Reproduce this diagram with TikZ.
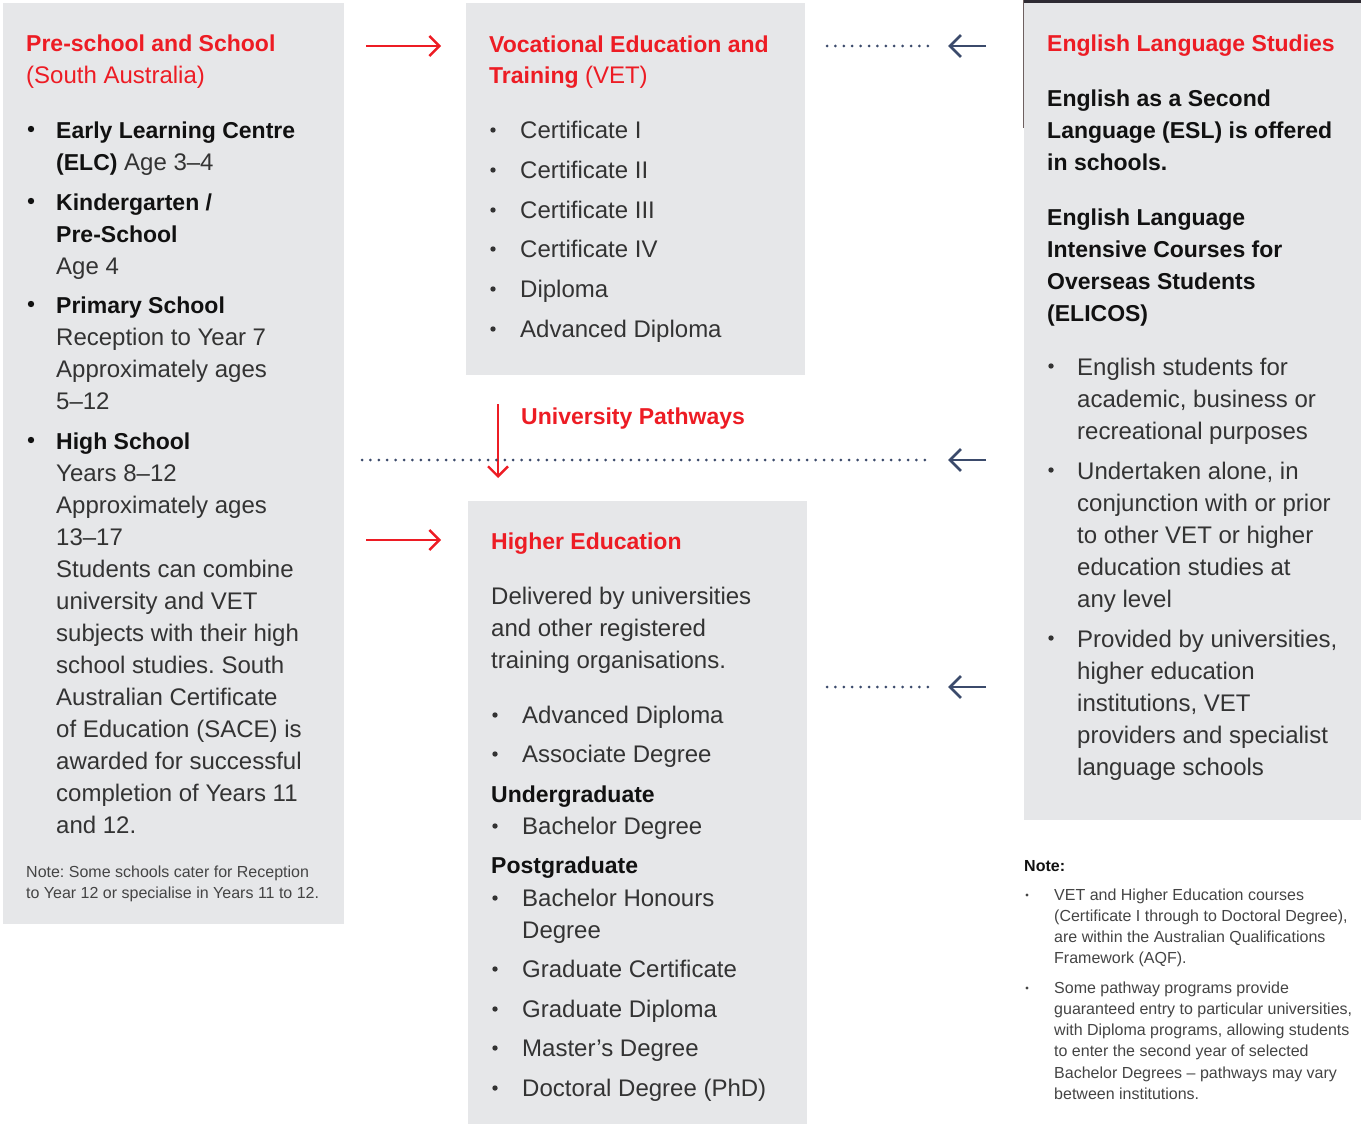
\documentclass[tikz,border=0pt]{standalone}
\usepackage{fontspec}
\setmainfont{Liberation Sans}
\usetikzlibrary{arrows.meta}
\definecolor{boxgray}{HTML}{E6E7E9}
\definecolor{hred}{HTML}{ED1C24}
\definecolor{bodyc}{HTML}{333333}
\definecolor{boldc}{HTML}{111111}
\definecolor{notec}{HTML}{444444}
\definecolor{navy}{HTML}{3B4A6B}
\definecolor{edgedark}{HTML}{2E2B33}
\definecolor{edgebrown}{HTML}{6E6060}
\newcommand\bldtxt[1]{{\fontsize{23}{32}\selectfont\bfseries\color{boldc}#1}}
\frenchspacing
\begin{document}
\begin{tikzpicture}[x=1pt,y=-1pt,
  box/.style={fill=boxgray,draw=none,anchor=north west,inner sep=0pt},
  txt/.style={anchor=base west,inner sep=0pt,align=left,text=bodyc,font=\frenchspacing\fontsize{24}{32}\selectfont},
  head/.style={anchor=base west,inner sep=0pt,align=left,text=hred,font=\fontsize{23}{32}\selectfont\bfseries},
  redreg/.style={anchor=base west,inner sep=0pt,align=left,text=hred,font=\fontsize{24}{32}\selectfont},
  small/.style={anchor=base west,inner sep=0pt,align=left,text=notec,font=\frenchspacing\fontsize{16}{21.3}\selectfont},
  redarrow/.style={draw=hred,line width=2.4pt,-{Straight Barb[length=10pt,width=20pt,line width=2.4pt]}},
  bluearrow/.style={draw=navy,line width=2.8pt,-{Straight Barb[length=11pt,width=22pt,line width=2.8pt]}},
  dotline/.style={draw=navy,line width=3pt,line cap=round,dash pattern=on 0pt off 8.4pt}
]
\useasboundingbox (0,0) rectangle (1361,1124);

% boxes
\node[box,minimum width=341pt,minimum height=921pt] (school) at (3,3) {};
\node[box,minimum width=339pt,minimum height=372pt] (vet) at (466,3) {};
\node[box,minimum width=339pt,minimum height=623pt] (he) at (468,501) {};
\node[box,minimum width=337pt,minimum height=817pt] (els) at (1024,3) {};
\draw[edgedark,line width=3pt] (1023,1.5) -- (1361,1.5);
\draw[edgebrown,line width=1.5pt] (1023.5,0) -- (1023.5,128);

% (multi-line nodes are placed at the baseline of their LAST line)
% ---------- School column ----------
\node[head] (t1) at (26,52) {Pre-school and School};
\node[redreg] (t1b) at (26,84) {(South Australia)};
\fill[boldc] (31,129) circle (3.2);
\node[txt] (s1) at (56,170) {\bldtxt{Early Learning Centre}\\\bldtxt{(ELC)} Age 3–4};
\fill[boldc] (31,201) circle (3.2);
\node[txt] (s2) at (56,274) {\bldtxt{Kindergarten /}\\\bldtxt{Pre-School}\\Age 4};
\fill[boldc] (31,304) circle (3.2);
\node[txt] (s3) at (56,409) {\bldtxt{Primary School}\\Reception to Year 7\\Approximately ages\\5–12};
\fill[boldc] (31,440) circle (3.2);
\node[txt] (s4) at (56,833) {\bldtxt{High School}\\Years 8–12\\Approximately ages\\13–17\\Students can combine\\university and VET\\subjects with their high\\school studies. South\\Australian Certificate\\of Education (SACE) is\\awarded for successful\\completion of Years 11\\and 12.};
\node[small] (sn) at (26,898.3) {Note: Some schools cater for Reception\\to Year 12 or specialise in Years 11 to 12.};

% ---------- VET column ----------
\node[head] (v0) at (489,84) {Vocational Education and\\Training {\mdseries\fontsize{24}{32}\selectfont (VET)}};
\foreach \yy/\lbl [count=\i] in {138/Certificate I,178/Certificate II,218/Certificate III,257/Certificate IV,297/Diploma,337/Advanced Diploma}{
  \fill[bodyc] (493,\yy-8) circle (2.7);
  \node[txt] (vet\i) at (520,\yy) {\lbl};
}

% ---------- University pathways ----------
\node[head] (up) at (521,424) {University Pathways};

% ---------- Higher education ----------
\node[head] (h1) at (491,549) {Higher Education};
\node[txt] (h2) at (491,668) {Delivered by universities\\and other registered\\training organisations.};
\foreach \yy/\lbl [count=\i] in {723/Advanced Diploma,762/Associate Degree}{
  \fill[bodyc] (495,\yy-8) circle (2.7);
  \node[txt] (hea\i) at (522,\yy) {\lbl};
}
\node[txt] (ug) at (491,802) {\bldtxt{Undergraduate}};
\fill[bodyc] (495,826) circle (2.7);
\node[txt] (ug1) at (522,834) {Bachelor Degree};
\node[txt] (pg) at (491,873) {\bldtxt{Postgraduate}};
\fill[bodyc] (495,898) circle (2.7);
\node[txt] (pg1) at (522,938) {Bachelor Honours\\Degree};
\foreach \yy/\lbl [count=\i] in {977/Graduate Certificate,1017/Graduate Diploma,1056/Master’s Degree,1096/Doctoral Degree (PhD)}{
  \fill[bodyc] (495,\yy-8) circle (2.7);
  \node[txt] (pgb\i) at (522,\yy) {\lbl};
}

% ---------- English Language Studies ----------
\node[head] (e1) at (1047,52) {English Language Studies};
\node[txt] (e2) at (1047,170) {\bldtxt{English as a Second}\\\bldtxt{Language (ESL) is offered}\\\bldtxt{in schools.}};
\node[txt] (e3) at (1047,321) {\bldtxt{English Language}\\\bldtxt{Intensive Courses for}\\\bldtxt{Overseas Students}\\\bldtxt{(ELICOS)}};
\fill[bodyc] (1051,366) circle (2.7);
\node[txt] (e4) at (1077,439) {English students for\\academic, business or\\recreational purposes};
\fill[bodyc] (1051,470) circle (2.7);
\node[txt] (e5) at (1077,607) {Undertaken alone, in\\conjunction with or prior\\to other VET or higher\\education studies at\\any level};
\fill[bodyc] (1051,638) circle (2.7);
\node[txt] (e6) at (1077,775) {Provided by universities,\\higher education\\institutions, VET\\providers and specialist\\language schools};

% ---------- Note ----------
\node[small,text=boldc,font=\fontsize{16}{21.3}\selectfont\bfseries] (nt) at (1024,871) {Note:};
\fill[notec] (1027,895) circle (1.6);
\node[small] (nt1) at (1054,963.9) {VET and Higher Education courses\\(Certificate I through to Doctoral Degree),\\are within the Australian Qualifications\\Framework (AQF).};
\fill[notec] (1027,988) circle (1.6);
\node[small] (nt2) at (1054,1099.5) {Some pathway programs provide\\guaranteed entry to particular universities,\\with Diploma programs, allowing students\\to enter the second year of selected\\Bachelor Degrees – pathways may vary\\between institutions.};

% ---------- connectors ----------
\coordinate (r1s) at (366,46);
\coordinate (r1e) at (441,46);
\coordinate (r2s) at (366,540);
\coordinate (r2e) at (441,540);
\coordinate (r3s) at (498,404);
\coordinate (r3e) at (498,478);
\draw[redarrow] (r1s) -- (r1e);
\draw[redarrow] (r2s) -- (r2e);
\draw[redarrow] (r3s) -- (r3e);

\coordinate (b1s) at (986,46);  \coordinate (b1e) at (948,46);
\coordinate (b2s) at (986,460); \coordinate (b2e) at (948,460);
\coordinate (b3s) at (986,687); \coordinate (b3e) at (948,687);
\coordinate (d1s) at (827,46);  \coordinate (d1e) at (928,46);
\coordinate (d2s) at (362,460); \coordinate (d2e) at (928,460);
\coordinate (d3s) at (827,687); \coordinate (d3e) at (928,687);
\draw[bluearrow] (b1s) -- (b1e);
\draw[bluearrow] (b2s) -- (b2e);
\draw[bluearrow] (b3s) -- (b3e);
\draw[dotline] (d1s) -- (d1e);
\draw[dotline] (d2s) -- (d2e);
\draw[dotline] (d3s) -- (d3e);
\end{tikzpicture}
\end{document}
